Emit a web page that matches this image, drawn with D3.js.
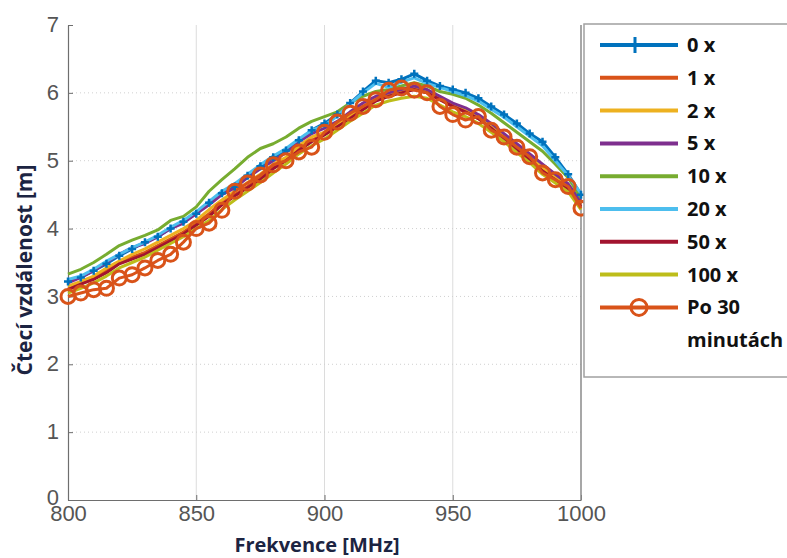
<!DOCTYPE html>
<html>
<head>
<meta charset="utf-8">
<script src="https://cdn.jsdelivr.net/npm/d3@7"></script>
<style>
  body { margin: 0; background: #fff; }
  svg { display: block; }
</style>
</head>
<body>
<svg id="chart"></svg>
<script>
// frequencies in MHz
const freqs = d3.range(800, 1001, 5);

const s0x   = [3.22,3.28,3.38,3.48,3.60,3.70,3.80,3.88,4.00,4.10,4.22,4.38,4.52,4.62,4.78,4.92,5.05,5.15,5.30,5.45,5.55,5.68,5.85,6.02,6.18,6.15,6.20,6.28,6.18,6.10,6.05,6.00,5.92,5.80,5.68,5.55,5.40,5.28,5.05,4.80,4.50];
const s1x   = [3.12,3.18,3.28,3.38,3.50,3.58,3.65,3.75,3.85,3.95,4.08,4.22,4.38,4.50,4.62,4.75,4.90,5.02,5.18,5.30,5.40,5.52,5.65,5.78,5.90,5.98,6.02,6.05,6.00,5.90,5.80,5.72,5.62,5.48,5.34,5.20,5.05,4.88,4.74,4.60,4.35];
const s2x   = [3.15,3.22,3.30,3.42,3.52,3.62,3.70,3.80,3.90,4.00,4.12,4.28,4.42,4.55,4.68,4.80,4.95,5.05,5.22,5.35,5.42,5.55,5.68,5.80,5.92,5.98,6.02,6.08,6.02,5.92,5.82,5.75,5.65,5.50,5.36,5.22,5.07,4.90,4.76,4.62,4.38];
const s5x   = [3.20,3.28,3.38,3.50,3.62,3.72,3.78,3.88,4.00,4.08,4.22,4.35,4.50,4.60,4.75,4.88,5.00,5.12,5.28,5.40,5.48,5.58,5.72,5.85,5.95,6.00,6.05,6.10,6.05,5.95,5.85,5.78,5.68,5.55,5.40,5.25,5.10,4.95,4.80,4.66,4.40];
const s10x  = [3.33,3.40,3.50,3.62,3.75,3.83,3.90,3.98,4.12,4.18,4.32,4.55,4.72,4.88,5.05,5.18,5.25,5.35,5.48,5.58,5.65,5.72,5.85,5.95,6.02,6.05,6.10,6.15,6.10,6.02,5.98,5.92,5.82,5.70,5.56,5.42,5.28,5.14,4.95,4.75,4.45];
const s20x  = [3.25,3.30,3.40,3.52,3.62,3.72,3.80,3.90,4.02,4.12,4.25,4.40,4.55,4.66,4.80,4.94,5.07,5.18,5.32,5.45,5.52,5.66,5.84,6.00,6.14,6.08,6.16,6.22,6.14,6.08,6.02,5.96,5.88,5.76,5.64,5.50,5.36,5.22,5.00,4.78,4.52];
const s50x  = [3.10,3.18,3.25,3.35,3.48,3.55,3.62,3.72,3.82,3.92,4.05,4.18,4.35,4.48,4.60,4.72,4.88,5.00,5.15,5.28,5.38,5.50,5.62,5.75,5.88,5.95,6.00,6.05,6.00,5.90,5.80,5.72,5.62,5.48,5.32,5.16,5.00,4.85,4.72,4.58,4.32];
const s100x = [3.05,3.12,3.20,3.30,3.42,3.50,3.58,3.68,3.78,3.88,4.00,4.12,4.28,4.42,4.55,4.68,4.82,4.95,5.10,5.22,5.32,5.45,5.58,5.70,5.82,5.88,5.92,5.95,5.92,5.82,5.72,5.65,5.55,5.42,5.28,5.12,4.97,4.80,4.67,4.54,4.28];
const sPo30 = [3.00,3.05,3.10,3.12,3.27,3.32,3.42,3.53,3.62,3.80,4.00,4.08,4.27,4.55,4.67,4.79,4.94,5.00,5.13,5.20,5.42,5.57,5.70,5.80,5.90,6.04,6.07,6.04,6.00,5.80,5.68,5.60,5.65,5.45,5.35,5.20,5.06,4.82,4.72,4.62,4.30];

const seriesNames = ['0 x', '1 x', '2 x', '5 x', '10 x', '20 x', '50 x', '100 x', 'Po 30 minutách'];
const seriesColors = ['#0072BD', '#D95319', '#EDB120', '#7E2F8E', '#77AC30', '#4DBEEE', '#A2142F', '#BDBD1A', '#D95319'];
const seriesValues = [s0x, s1x, s2x, s5x, s10x, s20x, s50x, s100x, sPo30];

const xTicks = [800, 850, 900, 950, 1000];
const yTicks = [0, 1, 2, 3, 4, 5, 6, 7];

const width = 787, height = 558;
const margin = { top: 25, right: 206, bottom: 58, left: 68 };
const innerW = width - margin.left - margin.right;
const innerH = height - margin.top - margin.bottom;

const svg = d3.select('#chart')
    .attr('width', width)
    .attr('height', height);

const chart = svg.append('g')
    .attr('transform', `translate(${margin.left}, ${margin.top})`);

const xscale = d3.scaleLinear().domain([800, 1000]).range([0, innerW]);
const yscale = d3.scaleLinear().domain([0, 7]).range([innerH, 0]);

// grid
chart.append('g')
    .selectAll('line')
    .data(xTicks.slice(1, -1))
    .join('line')
    .attr('x1', d => xscale(d)).attr('x2', d => xscale(d))
    .attr('y1', 0).attr('y2', innerH)
    .attr('stroke', '#dcdcdc')
    .attr('stroke-width', 1);

chart.append('g')
    .selectAll('line')
    .data(yTicks.slice(1, -1))
    .join('line')
    .attr('x1', 0).attr('x2', innerW)
    .attr('y1', d => yscale(d)).attr('y2', d => yscale(d))
    .attr('stroke', '#d0d0d0')
    .attr('stroke-dasharray', '1,3')
    .attr('stroke-width', 1);

// axes
const fmt = d3.format('d');
const xaxis = d3.axisBottom(xscale).tickValues(xTicks).tickFormat(fmt).tickSize(-5).tickSizeOuter(0).tickPadding(10);
const yaxis = d3.axisLeft(yscale).tickValues(yTicks).tickFormat(fmt).tickSize(-5).tickSizeOuter(0).tickPadding(9);

const xg = chart.append('g')
    .attr('transform', `translate(0, ${innerH})`)
    .call(xaxis);
const yg = chart.append('g').call(yaxis);

[xg, yg].forEach(g => {
    g.select('.domain').attr('stroke', '#6e6e6e').attr('stroke-width', 1.2);
    g.selectAll('.tick line').attr('stroke', '#6e6e6e');
    g.selectAll('.tick text')
        .attr('fill', '#555')
        .attr('font-family', '"Liberation Sans", Arial, sans-serif')
        .attr('font-size', '22px');
});
xg.selectAll('.tick text').attr('dy', '0.5em');
yg.selectAll('.tick text').attr('dy', d => d === 0 ? '0.2em' : '0.3em');

// right frame
chart.append('line')
    .attr('x1', innerW).attr('x2', innerW)
    .attr('y1', 0).attr('y2', innerH)
    .attr('stroke', '#8a8a8a')
    .attr('stroke-width', 1.5);

// lines
const line = d3.line()
    .x((d, i) => xscale(freqs[i]))
    .y(d => yscale(d));

const lines = chart.append('g');
seriesValues.forEach((vals, k) => {
    lines.append('path')
        .datum(vals)
        .attr('d', line)
        .attr('fill', 'none')
        .attr('stroke', seriesColors[k])
        .attr('stroke-width', 3)
        .attr('stroke-linejoin', 'round');
});

// 0 x markers (+)
lines.append('g')
    .selectAll('path')
    .data(s0x)
    .join('path')
    .attr('d', (d, i) => {
        const x = xscale(freqs[i]), y = yscale(d);
        return `M${x - 4},${y}H${x + 4}M${x},${y - 4}V${y + 4}`;
    })
    .attr('stroke', seriesColors[0])
    .attr('stroke-width', 2.5);

// Po 30 markers (o)
lines.append('g')
    .selectAll('circle')
    .data(sPo30)
    .join('circle')
    .attr('cx', (d, i) => xscale(freqs[i]))
    .attr('cy', d => yscale(d))
    .attr('r', 7)
    .attr('fill', 'none')
    .attr('stroke', seriesColors[8])
    .attr('stroke-width', 3);

// axis titles
svg.append('text')
    .attr('x', 317)
    .attr('y', 552)
    .attr('text-anchor', 'middle')
    .attr('font-family', '"Open Sans", sans-serif')
    .attr('font-weight', 'bold')
    .attr('font-size', '20px')
    .attr('fill', '#1c2442')
    .text('Frekvence [MHz]');

svg.append('text')
    .attr('transform', 'translate(32, 270) rotate(-90)')
    .attr('text-anchor', 'middle')
    .attr('font-family', '"Open Sans", sans-serif')
    .attr('font-weight', 'bold')
    .attr('font-size', '21px')
    .attr('fill', '#1c2442')
    .text('Čtecí vzdálenost [m]');

// legend
const legend = svg.append('g').attr('transform', 'translate(584, 24)');
legend.append('rect')
    .attr('x', 0).attr('y', 0)
    .attr('width', 230).attr('height', 353)
    .attr('fill', '#fff')
    .attr('stroke', '#a0a0a0')
    .attr('stroke-width', 1.5);

const rowY = i => 21 + i * 32.8;
seriesNames.forEach((name, i) => {
    const y = rowY(i);
    legend.append('line')
        .attr('x1', 16).attr('x2', 94)
        .attr('y1', y).attr('y2', y)
        .attr('stroke', seriesColors[i])
        .attr('stroke-width', 4);
    const t = legend.append('text')
        .attr('x', 103)
        .attr('y', y + 7)
        .attr('font-family', '"Open Sans", sans-serif')
        .attr('font-weight', 'bold')
        .attr('font-size', '20px')
        .attr('fill', '#111');
    if (name === 'Po 30 minutách') {
        t.append('tspan').attr('x', 103).text('Po 30');
        t.append('tspan').attr('x', 103).attr('dy', 33).text('minutách');
    } else {
        t.text(name);
    }
});
legend.append('path')
    .attr('d', `M51,${rowY(0) - 8}V${rowY(0) + 8}M47,${rowY(0)}H55`)
    .attr('stroke', seriesColors[0])
    .attr('stroke-width', 3);
legend.append('circle')
    .attr('cx', 55).attr('cy', rowY(8))
    .attr('r', 8)
    .attr('fill', 'none')
    .attr('stroke', seriesColors[8])
    .attr('stroke-width', 3);
</script>
</body>
</html>
